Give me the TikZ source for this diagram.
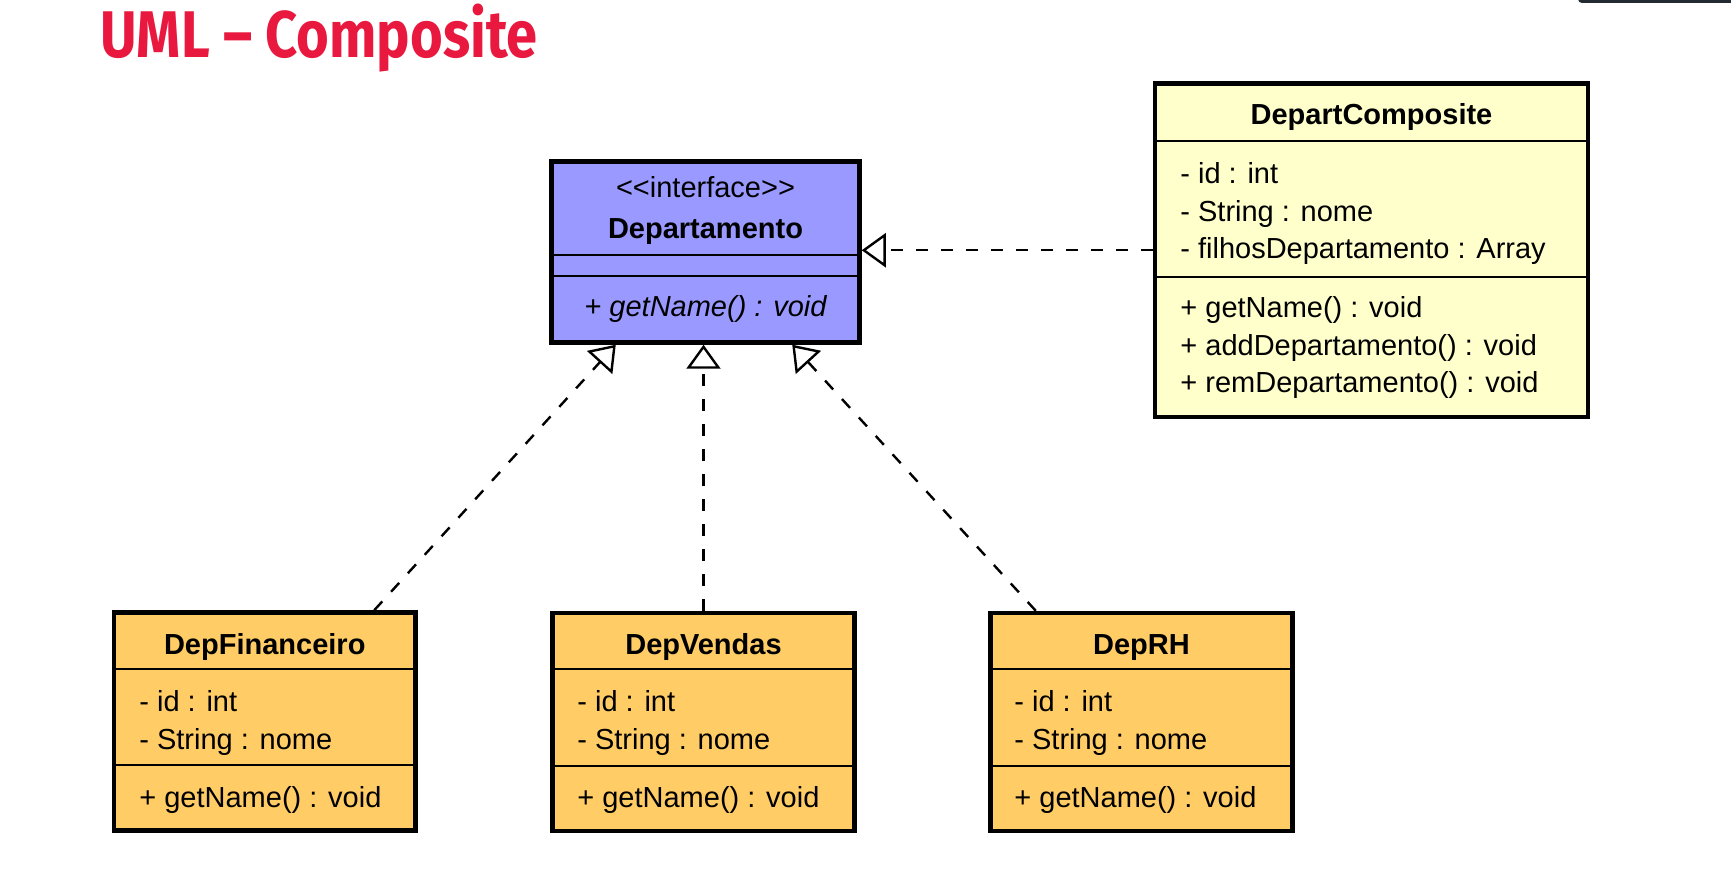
\documentclass[tikz,border=0pt]{standalone}
\usepackage{fontspec}
\setmainfont{Liberation Sans}
\newfontfamily\titlefont{Fira Sans}[FakeStretch=0.85]
\usetikzlibrary{arrows.meta}

\definecolor{titlered}{RGB}{232,24,62}
\definecolor{ifacefill}{RGB}{153,153,255}
\definecolor{compfill}{RGB}{255,255,204}
\definecolor{leaffill}{RGB}{255,204,102}
\definecolor{barcol}{RGB}{35,42,50}
\newcommand\memberfont{\fontsize{14.5pt}{19pt}\selectfont}

\begin{document}
\begin{tikzpicture}[x=0.5pt, y=-0.5pt,
  classbox/.style={draw=black, line width=2.25pt, inner sep=0pt},
  sepline/.style={black, line width=1pt},
  member/.style={anchor=base west, inner sep=0pt, font=\memberfont},
  classname/.style={anchor=base, inner sep=0pt, font=\memberfont\bfseries},
  realize/.style={dash pattern=on 6pt off 6.5pt, line width=1.2pt, -{Triangle[open, length=12pt, width=17pt]}}]
  \useasboundingbox (0,0) rectangle (1731,882);
  % window edge and title
  \fill[barcol, rounded corners=2pt] (1578,-4) rectangle (1740,3);
  \node[anchor=base west, inner sep=0pt, text=titlered, font=\titlefont\bfseries\fontsize{33pt}{33pt}\selectfont] (title) at (100,58) {UML – Composite};

  % interface
  \node[classbox, fill=ifacefill, minimum width=154pt, minimum height=90.5pt] (departamento) at (705.5,252) {};
  \draw[sepline] (departamento.west |- 0,255) -- (departamento.east |- 0,255);
  \draw[sepline] (departamento.west |- 0,276) -- (departamento.east |- 0,276);
  \node[classname, font=\memberfont] (departamento_stereo) at (705.5,198) {\textless\kern0pt\textless interface\textgreater\kern0pt\textgreater};
  \node[classname] (departamento_name) at (705.5,239) {Departamento};
  \node[classname, font=\memberfont\itshape] (departamento_m1) at (705.5,317) {+ getName() : void};

  % composite
  \node[classbox, fill=compfill, minimum width=216.5pt, minimum height=166.75pt] (depart_composite) at (1371.5,250.25) {};
  \draw[sepline] (depart_composite.west |- 0,141) -- (depart_composite.east |- 0,141);
  \draw[sepline] (depart_composite.west |- 0,277) -- (depart_composite.east |- 0,277);
  \node[classname] (depart_composite_name) at (1371.5,125) {DepartComposite};
  \node[member] (depart_composite_a1) at (1180,184) {- id : int};
  \node[member] (depart_composite_a2) at (1180,222) {- String : nome};
  \node[member] (depart_composite_a3) at (1180,259) {- filhosDepartamento : Array};
  \node[member] (depart_composite_m1) at (1180,318) {+ getName() : void};
  \node[member] (depart_composite_m2) at (1180,356) {+ addDepartamento() : void};
  \node[member] (depart_composite_m3) at (1180,393) {+ remDepartamento() : void};

  % leaves
  \node[classbox, fill=leaffill, minimum width=150.75pt, minimum height=109pt] (dep_financeiro) at (264.75,721.5) {};
  \draw[sepline] (dep_financeiro.west |- 0,669) -- (dep_financeiro.east |- 0,669);
  \draw[sepline] (dep_financeiro.west |- 0,765) -- (dep_financeiro.east |- 0,765);
  \node[classname] (dep_financeiro_name) at (264.75,654) {DepFinanceiro};
  \node[member] (dep_financeiro_a1) at (139,711) {- id : int};
  \node[member] (dep_financeiro_a2) at (139,749) {- String : nome};
  \node[member] (dep_financeiro_m1) at (139,807) {+ getName() : void};

  \node[classbox, fill=leaffill, minimum width=151pt, minimum height=109pt] (dep_vendas) at (703.5,722) {};
  \draw[sepline] (dep_vendas.west |- 0,669) -- (dep_vendas.east |- 0,669);
  \draw[sepline] (dep_vendas.west |- 0,766) -- (dep_vendas.east |- 0,766);
  \node[classname] (dep_vendas_name) at (703.5,654) {DepVendas};
  \node[member] (dep_vendas_a1) at (577,711) {- id : int};
  \node[member] (dep_vendas_a2) at (577,749) {- String : nome};
  \node[member] (dep_vendas_m1) at (577,807) {+ getName() : void};

  \node[classbox, fill=leaffill, minimum width=151pt, minimum height=109pt] (dep_rh) at (1141.5,722) {};
  \draw[sepline] (dep_rh.west |- 0,669) -- (dep_rh.east |- 0,669);
  \draw[sepline] (dep_rh.west |- 0,766) -- (dep_rh.east |- 0,766);
  \node[classname] (dep_rh_name) at (1141.5,654) {DepRH};
  \node[member] (dep_rh_a1) at (1014,711) {- id : int};
  \node[member] (dep_rh_a2) at (1014,749) {- String : nome};
  \node[member] (dep_rh_m1) at (1014,807) {+ getName() : void};

  % realizations
  \draw[realize] (depart_composite.west) -- (departamento.east |- depart_composite.west);
  \draw[realize] ([xshift=-21.75pt]dep_financeiro.north east) -- ([xshift=33.25pt]departamento.south west);
  \draw[realize] (dep_vendas.north) -- (dep_vendas.north |- departamento.south);
  \draw[realize] ([xshift=23.75pt]dep_rh.north west) -- ([xshift=-34.75pt]departamento.south east);
\end{tikzpicture}
\end{document}
